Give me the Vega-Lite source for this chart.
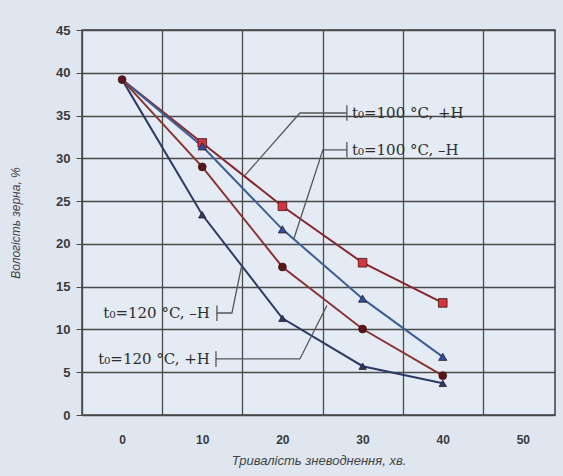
{
  "$schema": "https://vega.github.io/schema/vega-lite/v6.json",
  "width": 473,
  "height": 385,
  "autosize": "none",
  "padding": {"left": 82, "top": 30, "right": 8, "bottom": 61},
  "background": "#dfe6f0",
  "config": {
    "view": {"fill": "#e4ebf4", "stroke": "#3f3f3f", "strokeWidth": 1.5},
    "font": "Liberation Sans"
  },
  "datasets": {
    "series": [
      {"t": 0, "w": 39.2, "s": "t0=100 +H"},
      {"t": 10, "w": 31.8, "s": "t0=100 +H"},
      {"t": 20, "w": 24.4, "s": "t0=100 +H"},
      {"t": 30, "w": 17.8, "s": "t0=100 +H"},
      {"t": 40, "w": 13.1, "s": "t0=100 +H"},
      {"t": 0, "w": 39.2, "s": "t0=100 -H"},
      {"t": 10, "w": 31.4, "s": "t0=100 -H"},
      {"t": 20, "w": 21.7, "s": "t0=100 -H"},
      {"t": 30, "w": 13.6, "s": "t0=100 -H"},
      {"t": 40, "w": 6.8, "s": "t0=100 -H"},
      {"t": 0, "w": 39.2, "s": "t0=120 -H"},
      {"t": 10, "w": 23.4, "s": "t0=120 -H"},
      {"t": 20, "w": 11.3, "s": "t0=120 -H"},
      {"t": 30, "w": 5.7, "s": "t0=120 -H"},
      {"t": 40, "w": 3.7, "s": "t0=120 -H"},
      {"t": 0, "w": 39.2, "s": "t0=120 +H"},
      {"t": 10, "w": 29.0, "s": "t0=120 +H"},
      {"t": 20, "w": 17.3, "s": "t0=120 +H"},
      {"t": 30, "w": 10.05, "s": "t0=120 +H"},
      {"t": 40, "w": 4.6, "s": "t0=120 +H"}
    ],
    "leaders": [
      {"id": "a", "o": 1, "t": 28.04, "w": 35.3},
      {"id": "a", "o": 2, "t": 22.18, "w": 35.3},
      {"id": "a", "o": 3, "t": 15.32, "w": 28.0},
      {"id": "ab", "o": 1, "t": 28.04, "w": 34.4},
      {"id": "ab", "o": 2, "t": 28.04, "w": 36.2},
      {"id": "b", "o": 1, "t": 28.04, "w": 31.0},
      {"id": "b", "o": 2, "t": 25.05, "w": 31.0},
      {"id": "b", "o": 3, "t": 21.43, "w": 20.6},
      {"id": "bb", "o": 1, "t": 28.04, "w": 30.1},
      {"id": "bb", "o": 2, "t": 28.04, "w": 31.9},
      {"id": "c", "o": 1, "t": 11.83, "w": 11.92},
      {"id": "c", "o": 2, "t": 13.7, "w": 11.92},
      {"id": "c", "o": 3, "t": 14.95, "w": 17.6},
      {"id": "cb", "o": 1, "t": 11.83, "w": 11.0},
      {"id": "cb", "o": 2, "t": 11.83, "w": 12.8},
      {"id": "d", "o": 1, "t": 11.71, "w": 6.55},
      {"id": "d", "o": 2, "t": 22.18, "w": 6.55},
      {"id": "d", "o": 3, "t": 25.55, "w": 12.8},
      {"id": "db", "o": 1, "t": 11.71, "w": 5.65},
      {"id": "db", "o": 2, "t": 11.71, "w": 7.45}
    ],
    "labels": [
      {"label": "t₀=100 °C, +H", "t": 28.67, "w": 35.3, "a": "left"},
      {"label": "t₀=100 °C, –H", "t": 28.67, "w": 31.0, "a": "left"},
      {"label": "t₀=120 °C, –H", "t": 10.96, "w": 11.92, "a": "right"},
      {"label": "t₀=120 °C, +H", "t": 10.96, "w": 6.55, "a": "right"}
    ]
  },
  "encoding": {
    "x": {
      "field": "t", "type": "quantitative",
      "scale": {"domain": [-5, 54], "nice": false, "zero": false},
      "axis": {
        "values": [-5, 5, 15, 25, 35, 45],
        "labelExpr": "datum.value + 5",
        "labelOffset": 40,
        "labelFlush": false,
        "ticks": false,
        "tickSize": 0,
        "domain": false,
        "grid": true,
        "gridColor": "#4a4a4a",
        "gridWidth": 1.3,
        "gridOpacity": 1,
        "labelPadding": 19,
        "labelFontSize": 12,
        "labelFontWeight": "bold",
        "labelColor": "#3a3a3a",
        "title": "Тривалість зневоднення, хв.",
        "titleFontSize": 13,
        "titleFontStyle": "italic",
        "titleFontWeight": "normal",
        "titleColor": "#444444",
        "titlePadding": 9
      }
    },
    "y": {
      "field": "w", "type": "quantitative",
      "scale": {"domain": [0, 45], "nice": false},
      "axis": {
        "values": [0, 5, 10, 15, 20, 25, 30, 35, 40, 45],
        "domain": false,
        "ticks": true,
        "tickSize": 6,
        "tickColor": "#4a4a4a",
        "grid": true,
        "gridColor": "#4a4a4a",
        "gridWidth": 1.3,
        "gridOpacity": 1,
        "labelPadding": 6,
        "labelFontSize": 13,
        "labelFontWeight": "bold",
        "labelColor": "#3a3a3a",
        "title": "Вологість зерна, %",
        "titleFontSize": 12,
        "titleFontStyle": "italic",
        "titleFontWeight": "normal",
        "titleColor": "#444444",
        "titlePadding": 33
      }
    }
  },
  "layer": [
    {
      "data": {"name": "series"},
      "mark": {"type": "line", "strokeWidth": 2},
      "encoding": {
        "stroke": {
          "field": "s", "type": "nominal", "legend": null,
          "scale": {
            "domain": ["t0=100 +H", "t0=100 -H", "t0=120 +H", "t0=120 -H"],
            "range": ["#86282b", "#3b5f96", "#8a3431", "#2c3a66"]
          }
        },
        "detail": {"field": "s"}
      }
    },
    {
      "data": {"name": "leaders"},
      "mark": {"type": "line", "stroke": "#555555", "strokeWidth": 1.3},
      "encoding": {
        "detail": {"field": "id"},
        "order": {"field": "o", "type": "quantitative"}
      }
    },
    {
      "data": {"name": "series"},
      "transform": [{"filter": "datum.t > 0 || datum.s == 't0=120 +H'"}],
      "mark": {"type": "point", "filled": true, "opacity": 1, "strokeWidth": 0.8},
      "encoding": {
        "fill": {
          "field": "s", "type": "nominal", "legend": null,
          "scale": {
            "domain": ["t0=100 +H", "t0=100 -H", "t0=120 +H", "t0=120 -H"],
            "range": ["#d6343c", "#2a50a8", "#5a1616", "#253b7c"]
          }
        },
        "stroke": {"value": "#3a1a1a"},
        "shape": {
          "field": "s", "type": "nominal", "legend": null,
          "scale": {
            "domain": ["t0=100 +H", "t0=100 -H", "t0=120 +H", "t0=120 -H"],
            "range": ["square", "triangle-up", "circle", "triangle-up"]
          }
        },
        "size": {
          "field": "s", "type": "nominal", "legend": null,
          "scale": {
            "domain": ["t0=100 +H", "t0=100 -H", "t0=120 +H", "t0=120 -H"],
            "range": [75, 55, 95, 55]
          }
        }
      }
    },
    {
      "data": {"name": "labels"},
      "transform": [{"filter": "datum.a == 'left'"}],
      "mark": {"type": "text", "align": "left", "baseline": "middle", "font": "DejaVu Serif", "fontSize": 15, "fill": "#2e2e2e"},
      "encoding": {"text": {"field": "label"}}
    },
    {
      "data": {"name": "labels"},
      "transform": [{"filter": "datum.a == 'right'"}],
      "mark": {"type": "text", "align": "right", "baseline": "middle", "font": "DejaVu Serif", "fontSize": 15, "fill": "#2e2e2e"},
      "encoding": {"text": {"field": "label"}}
    }
  ]
}
